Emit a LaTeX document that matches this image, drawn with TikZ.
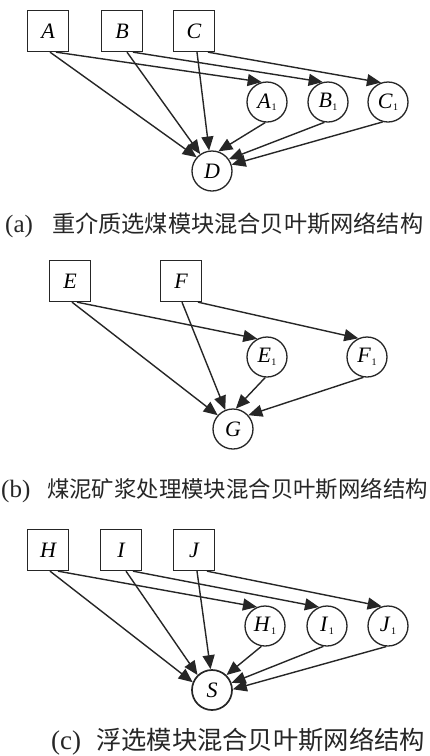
\documentclass[tikz,border=0pt]{standalone}
\usepackage{fontspec}
\setmainfont{Liberation Serif}
\newfontfamily\cjk{Noto Sans CJK SC}
\usetikzlibrary{arrows.meta}
\definecolor{ink}{HTML}{262626}
% italic variable with a small upright index
\newcommand\varsub[2]{\textit{#1}\kern0.5pt\raisebox{-2.5pt}{\fontsize{10}{10}\selectfont #2}}
\begin{document}
\begin{tikzpicture}[x=1pt,y=-1pt,
  every node/.style={inner sep=0pt},
  obs/.style={draw=ink, line width=1.3pt, minimum size=41pt,
    font=\fontsize{22}{22}\selectfont\itshape},
  hid/.style={circle, draw=ink, line width=1.3pt, minimum size=40pt,
    font=\fontsize{22}{22}\selectfont},
  link/.style={draw=ink, line width=1.4pt, -{Triangle[length=14pt,width=12pt]}},
  captext/.style={anchor=base west, text=ink}
]
\fill[white] (0,0) rectangle (430,756);
\useasboundingbox (0,0) rectangle (430,756);

% ---------- (a) dense-medium coal preparation ----------
\node[obs] (A) at (48,31) {A};
\node[obs] (B) at (122,31) {B};
\node[obs] (C) at (194,31) {C};
\node[hid] (A1) at (267,102) {\varsub{A}{1}};
\node[hid] (B1) at (328,102) {\varsub{B}{1}};
\node[hid] (C1) at (388,102) {\varsub{C}{1}};
\node[hid] (D) at (212,171) {\textit{D}};

\draw[link] ([xshift=2]A.south) -- (D.138);
\draw[link] ([xshift=8]A.south) -- (A1.105);
\draw[link] ([xshift=5]B.south) -- (D.125);
\draw[link] ([xshift=11]B.south) -- (B1.105);
\draw[link] ([xshift=3]C.south) -- (D.98);
\draw[link] ([xshift=14]C.south) -- (C1.110);
\draw[link] (A1.-95) -- (D.72);
\draw[link] (B1.-100) -- (D.35);
\draw[link] (C1.-105) -- (D.18);

\node[captext] (capa) at (5,232) {\makebox[47pt][l]{\fontsize{25}{25}\selectfont(a)}\fontsize{23.2}{23.2}\cjk 重介质选煤模块混合贝叶斯网络结构};

% ---------- (b) slime slurry treatment ----------
\node[obs] (E) at (70,281) {E};
\node[obs] (F) at (181,281) {F};
\node[hid] (E1) at (267,357) {\varsub{E}{1}};
\node[hid] (F1) at (367,357) {\varsub{F}{1}};
\node[hid] (G) at (233,429) {\textit{G}};

\draw[link] ([xshift=2]E.south) -- (G.138);
\draw[link] ([xshift=7]E.south) -- (E1.118);
\draw[link] ([xshift=1]F.south) -- (G.112);
\draw[link] ([xshift=17]F.south) -- (F1.115);
\draw[link] (E1.-95) -- (G.82);
\draw[link] (F1.-100) -- (G.42);

\node[captext] (capb) at (1,497) {\makebox[46pt][l]{\fontsize{25}{25}\selectfont(b)}\fontsize{22.4}{22.4}\cjk 煤泥矿浆处理模块混合贝叶斯网络结构};

% ---------- (c) flotation ----------
\node[obs] (H) at (48,550) {H};
\node[obs] (I) at (121,550) {I};
\node[obs] (J) at (194,550) {J};
\node[hid] (H1) at (265,626) {\varsub{H}{1}};
\node[hid] (I1) at (327,626) {\varsub{I}{1}};
\node[hid] (J1) at (388,626) {\varsub{J}{1}};
\node[hid, line width=1.7pt] (S) at (212,690) {\textit{S}};

\draw[link] ([xshift=2]H.south) -- (S.158);
\draw[link] ([xshift=10]H.south) -- (H1.113);
\draw[link] ([xshift=5]I.south) -- (S.134);
\draw[link] ([xshift=12]I.south) -- (I1.113);
\draw[link] ([xshift=3]J.south) -- (S.94);
\draw[link] ([xshift=13]J.south) -- (J1.108);
\draw[link] (H1.-100) -- (S.46);
\draw[link] (I1.-100) -- (S.20);
\draw[link] (J1.-95) -- (S.2);

\node[captext] (capc) at (51,749) {\makebox[45pt][l]{\fontsize{27}{27}\selectfont(c)}\fontsize{25.3}{25.3}\cjk 浮选模块混合贝叶斯网络结构};
\end{tikzpicture}
\end{document}
